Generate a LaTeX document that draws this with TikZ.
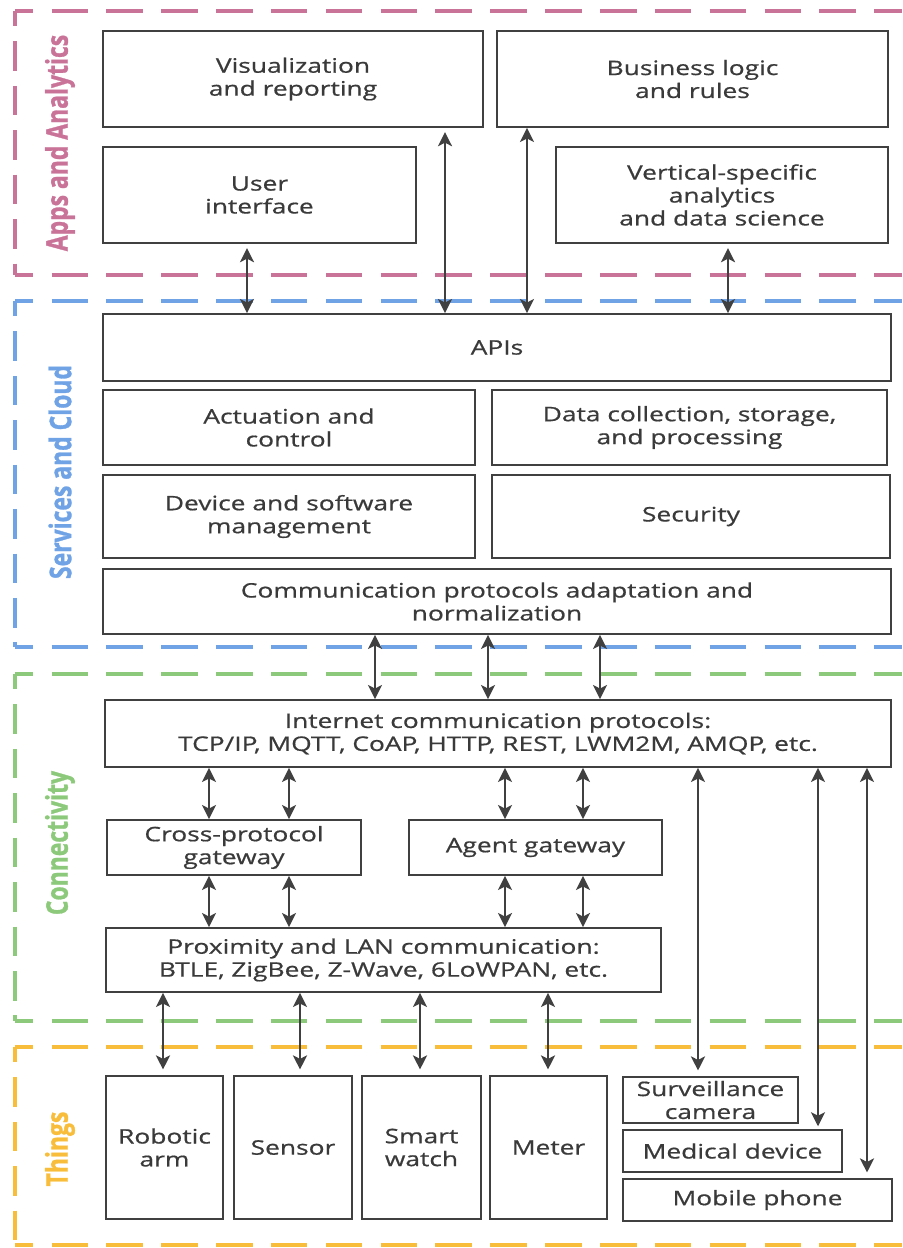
\documentclass[tikz,border=0pt]{standalone}
\usepackage{fontspec}
\setmainfont{Open Sans}[FakeStretch=1.32,FakeBold=0.7]
\newfontfamily\zonefont{Open Sans}[FakeBold=1.2]
\usetikzlibrary{arrows.meta}

\definecolor{appsc}{HTML}{C97399}
\definecolor{servc}{HTML}{6FA3E6}
\definecolor{connc}{HTML}{8CC97A}
\definecolor{thingc}{HTML}{F8BD3A}
\definecolor{linec}{HTML}{404040}
\definecolor{txtc}{HTML}{3A3A3A}

\begin{document}
\begin{tikzpicture}[
  x=0.025cm, y=-0.025cm,
  font=\fontsize{14.2}{16.3}\selectfont,
  blk/.style={draw=linec,line width=1.3pt,align=center,text=txtc,inner sep=2pt},
  arr/.style={{Stealth[length=10pt,width=10pt,inset=2.5pt]}-{Stealth[length=10pt,width=10pt,inset=2.5pt]},
              line width=1.5pt,draw=linec},
  zoneh/.style={line width=3pt,dash pattern=on 26pt off 13pt,dash phase=13pt},
  zonev/.style={line width=3.4pt,dash pattern=on 21pt off 10.6pt,dash phase=10pt},
  zonelbl/.style={font=\zonefont\bfseries\fontsize{16.3}{18}\selectfont,rotate=90},
]
\useasboundingbox (0,0) rectangle (902,1248);

% layer frames
\foreach \ytop/\ybot/\col in {11/275/appsc,301/647/servc,674/1021/connc,1047/1245/thingc}{
  \draw[zoneh,\col] (15,\ytop) -- (902,\ytop);
  \draw[zoneh,\col] (15,\ybot) -- (902,\ybot);
  \draw[zonev,\col] (15,\ytop) -- (15,\ybot);
}
\node[zonelbl,text=appsc] (lapps) at (60,143) {\scalebox{1}[1.3]{Apps and Analytics}};
\node[zonelbl,text=servc] (lserv) at (60,472) {\scalebox{1}[1.3]{Services and Cloud}};
\node[zonelbl,text=connc] (lconn) at (60,843) {\scalebox{1}[1.3]{Connectivity}};
\node[zonelbl,text=thingc] (lthing) at (60,1149) {\scalebox{1}[1.3]{Things}};

% apps and analytics
\node[blk,minimum width=9.5cm,minimum height=2.4cm] (vis) at (293,79) {Visualization\\and reporting};
\node[blk,minimum width=9.775cm,minimum height=2.4cm] (biz) at (692.5,79) {Business logic\\and rules};
\node[blk,minimum width=7.825cm,minimum height=2.4cm] (ui) at (259.5,195) {User\\interface};
\node[blk,minimum width=8.3cm,minimum height=2.4cm] (vert) at (722,195) {Vertical-specific\\analytics\\and data science};

% services and cloud
\node[blk,minimum width=19.7cm,minimum height=1.675cm] (apis) at (497,347.5) {APIs};
\node[blk,minimum width=9.3cm,minimum height=1.875cm] (act) at (289,427.5) {Actuation and\\control};
\node[blk,minimum width=9.875cm,minimum height=1.875cm] (data) at (689.5,427.5) {Data collection, storage,\\and processing};
\node[blk,minimum width=9.3cm,minimum height=2.075cm] (dev) at (289,516.5) {Device and software\\management};
\node[blk,minimum width=9.95cm,minimum height=2.075cm] (sec) at (691,516.5) {Security};
\node[blk,minimum width=19.7cm,minimum height=1.625cm] (cpa) at (497,601.5) {Communication protocols adaptation and\\normalization};

% connectivity
\node[blk,minimum width=19.65cm,minimum height=1.675cm] (inet) at (498,733.5) {Internet communication protocols:\\TCP/IP, MQTT, CoAP, HTTP, REST, LWM2M, AMQP, etc.};
\node[blk,minimum width=6.35cm,minimum height=1.375cm] (cross) at (234,847.5) {Cross-protocol\\gateway};
\node[blk,minimum width=6.325cm,minimum height=1.375cm] (agent) at (535.5,847.5) {Agent gateway};
\node[blk,minimum width=13.875cm,minimum height=1.6cm] (prox) at (383.5,960) {Proximity and LAN communication:\\BTLE, ZigBee, Z-Wave, 6LoWPAN, etc.};

% things
\node[blk,minimum width=2.925cm,minimum height=3.575cm] (robot) at (164.5,1147.5) {Robotic\\arm};
\node[blk,minimum width=2.95cm,minimum height=3.575cm] (sensor) at (293,1147.5) {Sensor};
\node[blk,minimum width=2.975cm,minimum height=3.575cm] (watch) at (421.5,1147.5) {Smart\\watch};
\node[blk,minimum width=2.925cm,minimum height=3.575cm] (meter) at (548.5,1147.5) {Meter};
\node[blk,minimum width=4.375cm,minimum height=1.15cm] (cam) at (710.5,1100) {Surveillance\\camera};
\node[blk,minimum width=5.475cm,minimum height=1.05cm] (med) at (732.5,1151) {Medical device};
\node[blk,minimum width=6.725cm,minimum height=1.05cm] (mob) at (757.5,1200) {Mobile phone};

% links
\draw[arr,shorten <=3pt] (247,0 |- ui.south) -- (247,0 |- apis.north);
\draw[arr,shorten <=3pt] (445,0 |- vis.south) -- (445,0 |- apis.north);
\draw[arr] (527,0 |- biz.south) -- (527,0 |- apis.north);
\draw[arr,shorten <=3pt] (728,0 |- vert.south) -- (728,0 |- apis.north);
\foreach \x in {375,488,600}
  \draw[arr] (\x,0 |- cpa.south) -- (\x,0 |- inet.north);
\foreach \x in {209,289}{
  \draw[arr] (\x,0 |- inet.south) -- (\x,0 |- cross.north);
  \draw[arr] (\x,0 |- cross.south) -- (\x,0 |- prox.north);
}
\foreach \x in {505,583}{
  \draw[arr] (\x,0 |- inet.south) -- (\x,0 |- agent.north);
  \draw[arr] (\x,0 |- agent.south) -- (\x,0 |- prox.north);
}
\draw[arr,shorten >=4pt] (163,0 |- prox.south) -- (163,0 |- robot.north);
\draw[arr,shorten >=4pt] (300,0 |- prox.south) -- (300,0 |- sensor.north);
\draw[arr,shorten >=4pt] (420,0 |- prox.south) -- (420,0 |- watch.north);
\draw[arr,shorten >=4pt] (548,0 |- prox.south) -- (548,0 |- meter.north);
\draw[arr,shorten >=4pt] (698,0 |- inet.south) -- (698,0 |- cam.north);
\draw[arr,shorten >=2pt] (818,0 |- inet.south) -- (818,0 |- med.north);
\draw[arr,shorten >=4pt] (867,0 |- inet.south) -- (867,0 |- mob.north);
\end{tikzpicture}
\end{document}
